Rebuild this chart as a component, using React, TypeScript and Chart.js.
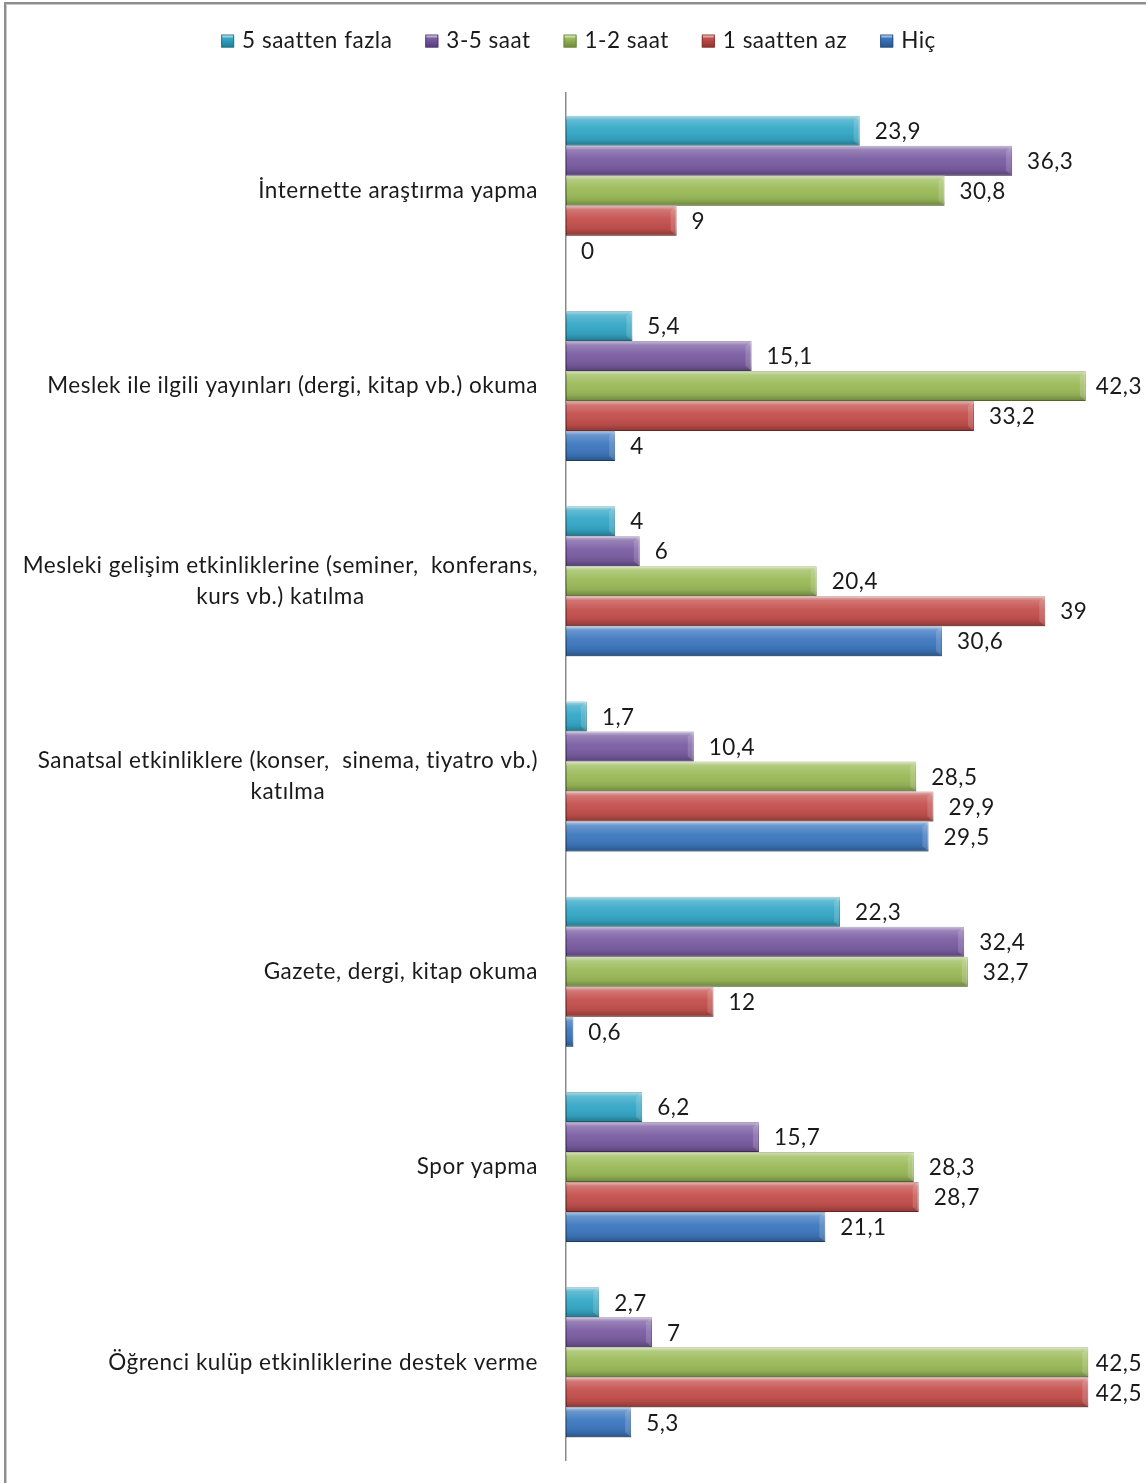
import React, { useEffect, useRef } from "react";
import { Chart, registerables } from "chart.js";

Chart.register(...registerables);

const categories: string[][] = [
  ["İnternette araştırma yapma"],
  ["Meslek ile ilgili yayınları (dergi, kitap vb.) okuma"],
  ["Mesleki gelişim etkinliklerine (seminer,  konferans,", "kurs vb.) katılma"],
  ["Sanatsal etkinliklere (konser,  sinema, tiyatro vb.)", "katılma"],
  ["Gazete, dergi, kitap okuma"],
  ["Spor yapma"],
  ["Öğrenci kulüp etkinliklerine destek verme"],
];

const seriesNames = ["5 saatten fazla", "3-5 saat", "1-2 saat", "1 saatten az", "Hiç"];

const over5h = [23.9, 5.4, 4, 1.7, 22.3, 6.2, 2.7];
const h3to5 = [36.3, 15.1, 6, 10.4, 32.4, 15.7, 7];
const h1to2 = [30.8, 42.3, 20.4, 28.5, 32.7, 28.3, 42.5];
const under1h = [9, 33.2, 39, 29.9, 12, 28.7, 42.5];
const never = [0, 4, 30.6, 29.5, 0.6, 21.1, 5.3];

const seriesValues = [over5h, h3to5, h1to2, under1h, never];
const colors = ["#35a8c7", "#7b5ea3", "#9bbb59", "#c4504d", "#3d78bf"];
const borders = ["#237a92", "#533d78", "#6e873c", "#8c3330", "#285487"];

const FONT = "Lato, 'Open Sans', sans-serif";
const FS = 22.5;
const LS = "0.5px";

function fmt(v: number) {
  return String(v).replace(".", ",");
}

function setFont(ctx: any) {
  ctx.font = `${FS}px ${FONT}`;
  try {
    ctx.letterSpacing = LS;
  } catch (e) {}
}

const decorPlugin = {
  id: "decor",
  afterDatasetsDraw(chart: any) {
    const ctx = chart.ctx as CanvasRenderingContext2D;
    ctx.save();
    chart.data.datasets.forEach((_: any, di: number) => {
      const meta = chart.getDatasetMeta(di);
      meta.data.forEach((bar: any, i: number) => {
        const v = seriesValues[di][i];
        const { x, y, base, height } = bar.getProps(["x", "y", "base", "height"], true);
        const top = y - height / 2;
        const left = Math.min(base, x);
        const w = Math.abs(x - base);
        if (w > 0.5) {
          const g = ctx.createLinearGradient(0, top, 0, top + height);
          g.addColorStop(0, "rgba(255,255,255,0.6)");
          g.addColorStop(0.14, "rgba(255,255,255,0.22)");
          g.addColorStop(0.45, "rgba(255,255,255,0.04)");
          g.addColorStop(0.8, "rgba(0,0,0,0.08)");
          g.addColorStop(1, "rgba(0,0,0,0.3)");
          ctx.fillStyle = g;
          ctx.fillRect(left, top, w, height);
          if (w > 8) {
            ctx.fillStyle = "rgba(255,255,255,0.16)";
            ctx.beginPath();
            ctx.moveTo(x, top);
            ctx.lineTo(x - 6, top + 5);
            ctx.lineTo(x - 6, top + height - 5);
            ctx.lineTo(x, top + height);
            ctx.closePath();
            ctx.fill();
          }
        }
        setFont(ctx);
        ctx.fillStyle = "#1a1a1a";
        ctx.textAlign = "left";
        ctx.textBaseline = "middle";
        const txt = fmt(v);
        const tw = ctx.measureText(txt).width;
        const tx = Math.min(x + 15, chart.width - 4 - tw);
        ctx.fillText(txt, tx, y + 1);
      });
    });
    ctx.restore();
  },
  afterDraw(chart: any) {
    const ctx = chart.ctx as CanvasRenderingContext2D;
    const yScale = chart.scales.y;
    ctx.save();
    setFont(ctx);
    ctx.fillStyle = "#1a1a1a";
    ctx.textBaseline = "middle";
    ctx.textAlign = "left";
    const rightEdge = 538;
    const lineH = 31;
    categories.forEach((lines, i) => {
      const cy = yScale.getPixelForValue(i);
      const widths = lines.map((l) => ctx.measureText(l).width);
      const bw = Math.max(...widths);
      const n = lines.length;
      lines.forEach((l, k) => {
        const lx = rightEdge - bw / 2 - widths[k] / 2;
        ctx.fillText(l, lx, cy + (k - (n - 1) / 2) * lineH);
      });
    });
    // legend
    const box = 13;
    const gapBoxText = 8;
    const gapItems = 33;
    const widths = seriesNames.map((s) => ctx.measureText(s).width);
    const total = widths.reduce((a, b) => a + b + box + gapBoxText, 0) + gapItems * (seriesNames.length - 1);
    let lx = 578.5 - total / 2;
    const ly = 41;
    seriesNames.forEach((s, i) => {
      const g = ctx.createLinearGradient(0, ly - box / 2, 0, ly + box / 2);
      g.addColorStop(0, "#ffffff");
      g.addColorStop(0.3, colors[i]);
      g.addColorStop(1, borders[i]);
      ctx.fillStyle = g;
      ctx.fillRect(lx, ly - box / 2, box, box);
      ctx.strokeStyle = borders[i];
      ctx.lineWidth = 1;
      ctx.strokeRect(lx + 0.5, ly - box / 2 + 0.5, box - 1, box - 1);
      ctx.fillStyle = "#1a1a1a";
      ctx.fillText(s, lx + box + gapBoxText, ly);
      lx += box + gapBoxText + widths[i] + gapItems;
    });
    ctx.restore();
  },
};

export default function App() {
  const ref = useRef<HTMLCanvasElement>(null);
  useEffect(() => {
    if (!ref.current) return;
    const chart = new Chart(ref.current, {
      type: "bar",
      data: {
        labels: categories.map((c) => c.join(" ")),
        datasets: seriesNames.map((name, i) => ({
          label: name,
          data: seriesValues[i],
          backgroundColor: colors[i],
          borderColor: borders[i],
          borderWidth: 1,
          borderSkipped: false,
          categoryPercentage: 0.768,
          barPercentage: 1,
        })),
      },
      options: {
        indexAxis: "y",
        animation: false,
        responsive: false,
        maintainAspectRatio: false,
        layout: { padding: { left: 0, right: 27, top: 93, bottom: 23 } },
        plugins: {
          legend: { display: false },
          tooltip: { enabled: false },
        },
        scales: {
          x: { display: false, min: 0, max: 45 },
          y: {
            display: true,
            grid: { display: false, drawTicks: false },
            border: { display: true, color: "#8a8a8a", width: 1.5 },
            ticks: { display: false },
            afterFit: (scale: any) => {
              scale.width = 566;
            },
          },
        },
      },
      plugins: [decorPlugin],
    });
    return () => chart.destroy();
  }, []);

  return (
    <div style={{ position: "fixed", left: 0, top: 0, width: 1146, height: 1483, background: "#fff", overflow: "hidden" }}>
      <canvas ref={ref} width={1146} height={1483} style={{ position: "absolute", left: 0, top: 0, width: 1146, height: 1483 }} />
      <div
        style={{
          position: "absolute",
          left: 4,
          top: 2,
          width: 1200,
          height: 1600,
          borderTop: "2px solid #8e8e8e",
          borderLeft: "2px solid #8e8e8e",
          boxShadow: "inset 1px 1px 0 #c8c8c8",
          pointerEvents: "none",
        }}
      />
    </div>
  );
}
